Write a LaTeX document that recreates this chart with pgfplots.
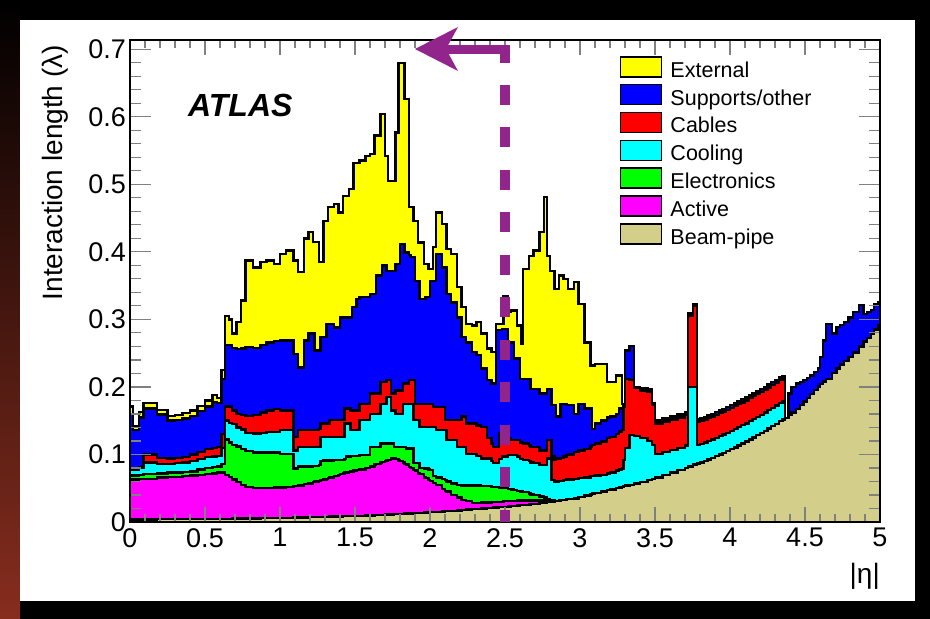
\documentclass[border=0pt]{standalone}
\usepackage{fontspec}
\setmainfont{Liberation Sans}
\usepackage{pgfplots}
\usepackage{pgfplotstable}
\pgfplotsset{compat=1.18}

\definecolor{bpipe}{RGB}{211,206,138}
\definecolor{arrowpurple}{RGB}{145,37,140}
\definecolor{slidered}{RGB}{135,45,30}
\definecolor{cExt}{RGB}{255,255,0}
\definecolor{cSup}{RGB}{0,0,255}
\definecolor{cCab}{RGB}{255,0,0}
\definecolor{cCool}{RGB}{0,255,255}
\definecolor{cEle}{RGB}{0,255,0}
\definecolor{cAct}{RGB}{255,0,255}

% cumulative tops of the stacked layers, bin left edges in |eta|
\pgfplotstableread{
eta bp act ele cool cab sup ext
0.00 .0039 .063 .069 .077 .077 .160 .171
0.02 .0039 .063 .069 .077 .077 .136 .142
0.06 .0039 .064 .070 .080 .081 .155 .163
0.09 .0039 .064 .071 .088 .100 .168 .176
0.18 .0040 .066 .072 .086 .095 .159 .166
0.25 .0040 .067 .073 .086 .094 .150 .157
0.30 .0040 .067 .073 .087 .095 .151 .158
0.35 .0041 .068 .074 .088 .096 .153 .161
0.40 .0042 .069 .075 .090 .100 .157 .165
0.45 .0043 .070 .078 .093 .104 .164 .172
0.50 .0044 .071 .080 .096 .108 .171 .180
0.55 .0045 .072 .081 .097 .110 .178 .188
0.58 .0046 .073 .082 .098 .111 .176 .184
0.61 .0047 .073 .086 .110 .130 .212 .225
0.635 .0047 .070 .122 .150 .171 .262 .305
0.66 .0048 .067 .118 .147 .171 .262 .300
0.68 .0049 .063 .114 .145 .165 .258 .279
0.71 .0050 .059 .112 .140 .160 .256 .296
0.74 .0051 .055 .108 .137 .158 .257 .328
0.77 .0052 .052 .105 .132 .157 .259 .387
0.82 .0054 .050 .103 .131 .158 .258 .377
0.87 .0055 .050 .103 .132 .162 .262 .385
0.91 .0057 .050 .103 .133 .165 .266 .387
0.96 .0059 .051 .103 .133 .167 .268 .382
1.00 .0061 .051 .101 .136 .165 .269 .397
1.04 .0063 .052 .101 .136 .165 .269 .402
1.09 .0065 .053 .079 .106 .126 .249 .387
1.12 .0066 .054 .082 .111 .136 .229 .370
1.16 .0068 .056 .082 .111 .136 .269 .420
1.19 .0070 .057 .082 .111 .136 .279 .429
1.22 .0072 .059 .083 .111 .136 .279 .415
1.23 .0073 .060 .083 .111 .136 .254 .415
1.26 .0074 .061 .084 .111 .138 .254 .385
1.27 .0075 .062 .090 .126 .146 .274 .385
1.29 .0076 .063 .091 .126 .146 .274 .446
1.31 .0077 .064 .091 .126 .146 .293 .446
1.32 .0078 .065 .091 .126 .146 .293 .466
1.33 .0079 .066 .091 .126 .151 .293 .466
1.36 .0081 .068 .092 .126 .151 .288 .471
1.39 .0083 .070 .092 .126 .151 .288 .458
1.40 .0084 .071 .092 .126 .151 .303 .458
1.42 .0085 .072 .092 .126 .151 .303 .483
1.43 .0086 .073 .093 .146 .168 .303 .483
1.44 .0087 .073 .097 .146 .168 .303 .483
1.46 .0088 .074 .097 .146 .168 .303 .493
1.47 .0089 .075 .098 .136 .165 .303 .493
1.48 .0090 .075 .098 .136 .165 .318 .493
1.49 .0090 .076 .098 .136 .165 .318 .532
1.51 .0092 .077 .098 .136 .165 .330 .532
1.53 .0093 .078 .099 .151 .175 .333 .535
1.57 .0096 .080 .099 .151 .175 .333 .542
1.60 .0099 .082 .111 .160 .190 .338 .545
1.63 .0102 .085 .111 .160 .190 .338 .572
1.64 .0103 .086 .111 .160 .190 .365 .572
1.67 .0106 .088 .116 .175 .207 .365 .604
1.68 .0107 .089 .116 .175 .207 .380 .604
1.70 .0110 .090 .116 .175 .207 .380 .542
1.71 .0111 .091 .116 .185 .210 .372 .542
1.72 .0112 .092 .116 .185 .210 .372 .505
1.74 .0114 .094 .116 .165 .190 .372 .505
1.76 .0116 .094 .111 .165 .190 .372 .505
1.77 .0117 .093 .111 .160 .195 .382 .577
1.79 .0119 .091 .111 .160 .195 .382 .680
1.80 .0120 .090 .111 .160 .195 .412 .680
1.82 .0122 .088 .111 .175 .205 .412 .680
1.83 .0123 .086 .111 .175 .205 .399 .626
1.84 .0124 .085 .109 .175 .205 .399 .626
1.86 .0126 .081 .109 .175 .210 .395 .466
1.87 .0128 .080 .109 .175 .210 .392 .466
1.89 .0130 .077 .087 .151 .210 .392 .446
1.90 .0131 .076 .087 .151 .175 .357 .446
1.92 .0134 .072 .087 .151 .175 .357 .414
1.93 .0135 .071 .080 .141 .175 .330 .414
1.96 .0139 .066 .079 .141 .175 .330 .382
1.97 .0140 .065 .079 .141 .175 .333 .382
1.99 .0143 .062 .078 .141 .175 .333 .375
2.00 .0145 .061 .077 .141 .175 .357 .375
2.02 .0148 .058 .068 .141 .170 .357 .407
2.04 .0151 .055 .066 .136 .170 .397 .458
2.08 .0157 .049 .064 .136 .170 .377 .441
2.10 .0160 .046 .062 .136 .151 .377 .441
2.11 .0162 .045 .060 .121 .151 .338 .404
2.14 .0167 .040 .057 .121 .151 .325 .397
2.18 .0173 .036 .055 .111 .151 .303 .348
2.21 .0178 .033 .054 .111 .156 .274 .318
2.24 .0184 .031 .054 .101 .146 .266 .293
2.28 .0190 .028 .054 .101 .146 .252 .291
2.31 .0195 .028 .054 .098 .143 .247 .296
2.34 .0200 .029 .053 .094 .141 .227 .279
2.38 .0205 .029 .053 .094 .124 .210 .257
2.41 .0210 .030 .052 .090 .116 .205 .252
2.42 .0212 .030 .052 .087 .111 .205 .252
2.44 .0215 .030 .052 .087 .111 .284 .293
2.46 .0220 .030 .051 .093 .131 .284 .293
2.48 .0223 .030 .050 .097 .131 .286 .293
2.49 .0225 .031 .050 .097 .124 .286 .335
2.52 .0230 .031 .049 .099 .124 .266 .311
2.54 .0235 .031 .048 .099 .121 .266 .313
2.56 .0240 .031 .047 .099 .121 .242 .313
2.58 .0245 .032 .046 .097 .121 .242 .291
2.60 .0248 .032 .045 .093 .118 .212 .291
2.61 .0250 .032 .045 .093 .118 .212 .264
2.62 .0255 .032 .044 .092 .116 .212 .375
2.66 .0260 .032 .042 .090 .113 .212 .394
2.67 .0263 .032 .041 .088 .111 .197 .394
2.69 .0270 .032 .040 .087 .111 .197 .402
2.73 .0280 .032 .038 .084 .106 .190 .429
2.76 .0290 .032 .036 .084 .106 .190 .481
2.78 .0295 .032 .034 .094 .121 .197 .394
2.80 .0300 .031 .033 .094 .121 .197 .372
2.81 .0305 .031 .032 .062 .097 .173 .372
2.83 .0310 .031 .031 .060 .092 .173 .345
2.84 .0315 .0315 .0315 .060 .094 .156 .345
2.86 .0320 .032 .032 .061 .094 .156 .365
2.87 .0325 .0325 .0325 .061 .095 .175 .365
2.89 .0330 .033 .033 .062 .097 .175 .360
2.91 .0340 .034 .034 .063 .099 .173 .360
2.92 .0340 .034 .034 .063 .100 .173 .345
2.96 .0350 .035 .035 .064 .104 .160 .355
2.99 .0370 .037 .037 .065 .106 .175 .323
3.03 .0390 .039 .039 .066 .108 .168 .266
3.07 .0410 .041 .041 .068 .112 .168 .232
3.08 .0420 .042 .042 .068 .114 .138 .232
3.10 .0430 .043 .043 .069 .116 .146 .234
3.14 .0450 .045 .045 .070 .119 .150 .234
3.18 .0470 .047 .047 .072 .124 .155 .207
3.20 .0480 .048 .048 .073 .126 .156 .207
3.24 .0500 .050 .050 .076 .130 .160 .217
3.26 .0510 .051 .051 .078 .134 .168 .217
3.28 .0520 .052 .052 .079 .136 .168 .175
3.29 .0530 .053 .053 .092 .170 .175 .175
3.30 .0540 .054 .054 .110 .212 .254 .254
3.33 .0550 .055 .055 .129 .210 .261 .261
3.36 .0570 .057 .057 .127 .198 .200 .200
3.40 .0590 .059 .059 .124 .195 .198 .198
3.45 .0620 .062 .062 .120 .193 .196 .196
3.48 .0640 .064 .064 .114 .173 .176 .176
3.50 .0660 .066 .066 .101 .146 .150 .150
3.55 .0696 .0696 .0696 .104 .149 .153 .153
3.60 .0732 .0732 .0732 .107 .152 .156 .156
3.65 .0769 .0769 .0769 .110 .155 .159 .159
3.70 .0797 .0797 .0797 .113 .158 .162 .162
3.72 .0822 .0822 .0822 .200 .306 .309 .309
3.755 .0850 .0850 .0850 .200 .320 .323 .323
3.78 .0865 .0865 .0865 .114 .148 .152 .152
3.80 .0883 .0883 .0883 .1153 .1493 .1533 .1533
3.825 .0905 .0905 .0905 .1175 .1515 .1555 .1555
3.85 .0928 .0928 .0928 .1198 .1538 .1578 .1578
3.875 .0951 .0951 .0951 .1221 .1561 .1601 .1601
3.90 .0975 .0975 .0975 .1245 .1585 .1625 .1625
3.925 .1000 .1000 .1000 .1270 .1610 .1650 .1650
3.95 .1025 .1025 .1025 .1295 .1635 .1675 .1675
3.975 .1051 .1051 .1051 .1321 .1661 .1701 .1701
4.00 .1078 .1078 .1078 .1348 .1688 .1728 .1728
4.025 .1105 .1105 .1105 .1375 .1715 .1755 .1755
4.05 .1133 .1133 .1133 .1403 .1743 .1783 .1783
4.075 .1162 .1162 .1162 .1432 .1772 .1812 .1812
4.10 .1191 .1191 .1191 .1461 .1801 .1841 .1841
4.125 .1222 .1222 .1222 .1492 .1832 .1872 .1872
4.15 .1253 .1253 .1253 .1523 .1863 .1903 .1903
4.175 .1284 .1284 .1284 .1554 .1894 .1934 .1934
4.20 .1317 .1317 .1317 .1587 .1927 .1967 .1967
4.225 .1350 .1350 .1350 .1620 .1960 .2000 .2000
4.25 .1384 .1384 .1384 .1654 .1994 .2034 .2034
4.275 .1419 .1419 .1419 .1689 .2029 .2069 .2069
4.30 .1455 .1455 .1455 .1725 .2065 .2105 .2105
4.325 .1492 .1492 .1492 .1762 .2102 .2142 .2142
4.35 .1515 .1515 .1515 .1785 .2125 .2165 .2165
4.365 .1540 .1540 .1540 .1540 .1540 .1540 .1540
4.39 .1585 .1585 .1585 .1585 .1585 .190 .190
4.41 .1624 .1624 .1624 .1624 .1624 .200 .200
4.44 .1674 .1674 .1674 .1674 .1674 .205 .205
4.465 .1728 .1728 .1728 .1728 .1728 .207 .207
4.49 .1786 .1786 .1786 .1786 .1786 .210 .210
4.515 .1839 .1839 .1839 .1839 .1839 .213 .213
4.535 .1895 .1895 .1895 .1895 .1895 .217 .217
4.56 .1953 .1953 .1953 .1953 .1953 .222 .222
4.585 .2008 .2008 .2008 .2008 .2008 .228 .228
4.60 .2040 .2040 .2040 .2040 .2040 .244 .244
4.62 .2080 .2080 .2080 .2080 .2080 .269 .269
4.64 .2120 .2120 .2120 .2120 .2120 .293 .293
4.68 .2210 .2210 .2210 .2210 .2210 .279 .279
4.71 .2270 .2270 .2270 .2270 .2270 .289 .289
4.735 .2330 .2330 .2330 .2330 .2330 .292 .292
4.76 .2385 .2385 .2385 .2385 .2385 .296 .296
4.79 .2440 .2440 .2440 .2440 .2440 .303 .303
4.82 .2510 .2510 .2510 .2510 .2510 .311 .311
4.86 .2600 .2600 .2600 .2600 .2600 .321 .321
4.89 .2670 .2670 .2670 .2670 .2670 .308 .308
4.915 .2724 .2724 .2724 .2724 .2724 .311 .311
4.94 .2787 .2787 .2787 .2787 .2787 .314 .314
4.96 .2849 .2849 .2849 .2849 .2849 .323 .323
4.985 .2915 .2915 .2915 .2915 .2915 .325 .325
5.00 .2915 .2915 .2915 .2915 .2915 .325 .325
}\stack

\begin{document}
\begin{tikzpicture}[x=1pt,y=1pt]
% slide background
\fill[black] (0,0) rectangle (930,619);
\shade[top color=black, bottom color=slidered] (0,0) rectangle (20,619);
\fill[white] (20,18) rectangle (915,599);

\begin{axis}[
    at={(130pt,97pt)}, anchor=south west,
    width=750pt, height=482pt, scale only axis,
    xmin=0, xmax=5, ymin=0, ymax=0.7137,
    const plot,
    axis on top,
    axis line style={line width=1.4pt},
    xtick={0,0.5,...,5},
    ytick={0,0.1,0.2,0.3,0.4,0.5,0.6,0.7},
    minor x tick num=4,
    minor y tick num=4,
    xtick style={line width=1.2pt, /pgfplots/major tick length=15pt, /pgfplots/minor tick length=8pt},
    ytick style={line width=1.2pt, /pgfplots/major tick length=21pt, /pgfplots/minor tick length=11pt},
    /pgf/number format/assume math mode=true,
    tick label style={font=\fontsize{27}{27}\selectfont},
    xticklabel style={inner sep=0pt, yshift=-6pt},
    yticklabel style={inner sep=0pt, xshift=-4pt},
    ylabel={Interaction length (λ)},
    ylabel style={at={(axis description cs:-0.117,0.99)}, anchor=north east,
        inner sep=0pt, font=\fontsize{28}{28}\selectfont},
    xlabel={|η|},
    xlabel style={at={(axis description cs:1,-0.085)}, anchor=north east,
        inner sep=0pt, font=\fontsize{28}{28}\selectfont},
    legend image code/.code={\draw[#1, line width=1.5pt] (0pt,-5pt) rectangle (41pt,15pt);},
    legend style={draw=none, fill=none, inner sep=0pt, outer sep=0pt,
        at={(0.6533,0.9668)}, anchor=north west,
        font=\fontsize{21.5}{21.5}\selectfont,
        row sep=2.6pt, column sep=8pt,
        nodes={inner sep=0pt, outer sep=0pt, text height=15pt, text depth=4pt}},
    legend cell align=left,
]
\addplot[fill=cExt, draw=black, line width=2.4pt] table[x=eta, y=ext] {\stack} \closedcycle;
\addplot[fill=cSup, draw=black, line width=2.4pt] table[x=eta, y=sup] {\stack} \closedcycle;
\addplot[fill=cCab, draw=black, line width=2.4pt] table[x=eta, y=cab] {\stack} \closedcycle;
\addplot[fill=cCool, draw=black, line width=2.4pt] table[x=eta, y=cool] {\stack} \closedcycle;
\addplot[fill=cEle, draw=black, line width=2.4pt] table[x=eta, y=ele] {\stack} \closedcycle;
\addplot[fill=cAct, draw=black, line width=2.4pt] table[x=eta, y=act] {\stack} \closedcycle;
\addplot[fill=bpipe, draw=black, line width=2.4pt] table[x=eta, y=bp] {\stack} \closedcycle;
\legend{External, Supports/other, Cables, Cooling, Electronics, Active, Beam-pipe}
\end{axis}

\node[anchor=base west, inner sep=0pt, font=\fontsize{32}{32}\selectfont\bfseries\itshape]
    at (188,502) {ATLAS};

% |eta| < 2.5 marker
\draw[arrowpurple, line width=10pt, dash pattern=on 20pt off 22.5pt] (505,534) -- (505,97);
\fill[arrowpurple] (500,556) rectangle (510,574);
\fill[arrowpurple] (446,565) rectangle (510,574);
\fill[arrowpurple] (415,570) -- (458,592) -- (446,570) -- (458,548) -- cycle;

\pgfresetboundingbox
\path (0,0) rectangle (930,619);
\end{tikzpicture}
\end{document}
